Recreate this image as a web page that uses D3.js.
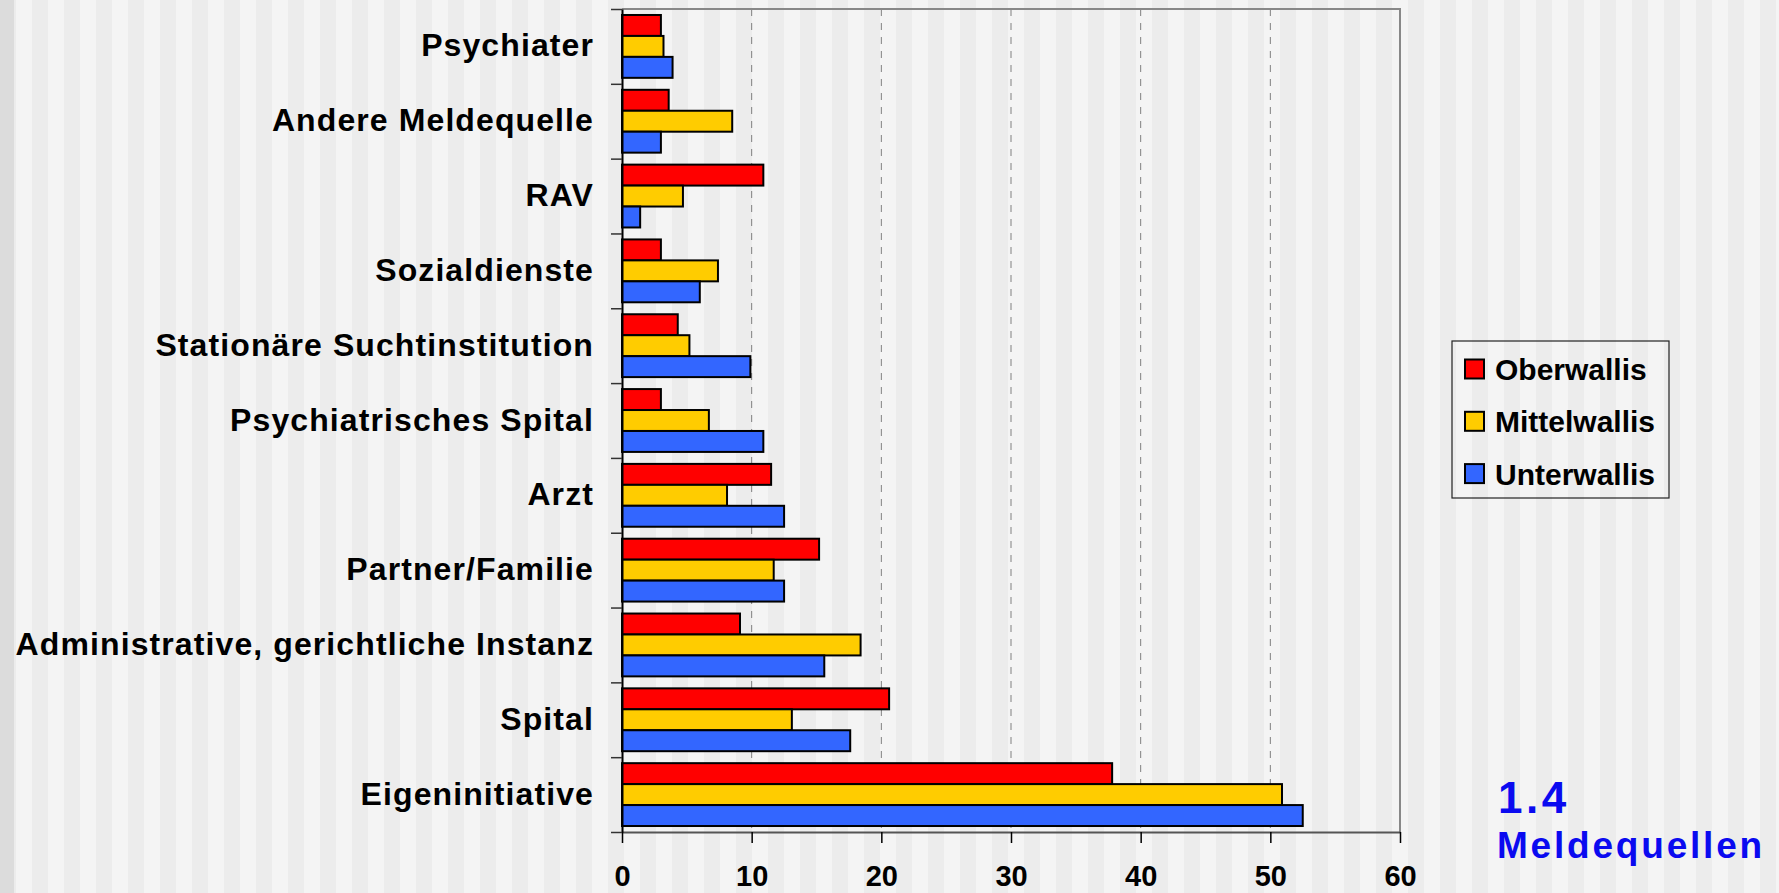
<!DOCTYPE html>
<html>
<head>
<meta charset="utf-8">
<script src="https://cdn.jsdelivr.net/npm/d3@7"></script>
<style>
  html, body { margin: 0; padding: 0; background: #f4f4f4; }
  svg { display: block; font-family: "Liberation Sans", Arial, sans-serif; }
</style>
</head>
<body>
<svg id="chart" width="1779" height="893"></svg>
<script>
// --- data ---
const categories = [
    "Psychiater", "Andere Meldequelle", "RAV", "Sozialdienste",
    "Stationäre Suchtinstitution", "Psychiatrisches Spital", "Arzt",
    "Partner/Familie", "Administrative, gerichtliche Instanz", "Spital", "Eigeninitiative"
];
const seriesNames = ["Oberwallis", "Mittelwallis", "Unterwallis"];
const oberwallis   = [3.0, 3.6, 10.9, 3.0, 4.3, 3.0, 11.5, 15.2, 9.1, 20.6, 37.8];
const mittelwallis = [3.2, 8.5, 4.7, 7.4, 5.2, 6.7, 8.1, 11.7, 18.4, 13.1, 50.9];
const unterwallis  = [3.9, 3.0, 1.4, 6.0, 9.9, 10.9, 12.5, 12.5, 15.6, 17.6, 52.5];
const xTicks = [0, 10, 20, 30, 40, 50, 60];
const colors = ["#ff0000", "#ffcc00", "#3366ff"];

const rows = categories.map((c, i) => ({
    cat: c,
    values: [oberwallis[i], mittelwallis[i], unterwallis[i]]
}));

const W = 1779, H = 893;
const plot = { left: 622, right: 1400, top: 9, bottom: 832 };

const svg = d3.select("#chart");

// striped slide background
const defs = svg.append("defs");
const pat = defs.append("pattern")
    .attr("id", "stripes").attr("patternUnits", "userSpaceOnUse")
    .attr("width", 32).attr("height", 10);
pat.append("rect").attr("width", 32).attr("height", 10).attr("fill", "#f4f4f4");
pat.append("rect").attr("width", 16).attr("height", 10).attr("fill", "#ececec");
svg.append("rect").attr("width", W).attr("height", H).attr("fill", "url(#stripes)");
svg.append("rect").attr("width", 14).attr("height", H).attr("fill", "#dcdcdc");

// scales
const x = d3.scaleLinear().domain([0, 60]).range([plot.left, plot.right]);
const y0 = d3.scaleBand().domain(categories).range([plot.top, plot.bottom])
    .paddingInner(0.16).paddingOuter(0.08);
const y1 = d3.scaleBand().domain(d3.range(seriesNames.length)).range([0, y0.bandwidth()]);
const yIdx = d3.scaleLinear().domain([0, categories.length]).range([plot.top, plot.bottom]);

// gridlines
svg.append("g").selectAll("line")
    .data(xTicks.filter(t => t > 0 && t < 60))
    .join("line")
    .attr("x1", d => x(d)).attr("x2", d => x(d))
    .attr("y1", plot.top).attr("y2", plot.bottom)
    .attr("stroke", "#808080").attr("stroke-width", 1)
    .attr("stroke-dasharray", "7,7");

// frame top + right
svg.append("path")
    .attr("d", `M${plot.left},${plot.top}H${plot.right}V${plot.bottom}`)
    .attr("fill", "none").attr("stroke", "#888").attr("stroke-width", 2);

// bars
const groups = svg.append("g").selectAll("g")
    .data(rows)
    .join("g")
    .attr("transform", d => `translate(0,${y0(d.cat)})`);

groups.selectAll("rect")
    .data(d => d.values)
    .join("rect")
    .attr("x", x(0))
    .attr("y", (d, i) => y1(i))
    .attr("width", d => x(d) - x(0))
    .attr("height", y1.bandwidth())
    .attr("fill", (d, i) => colors[i])
    .attr("stroke", "#000")
    .attr("stroke-width", 2);

// x axis
const xAxis = svg.append("g")
    .attr("transform", `translate(0,${plot.bottom})`)
    .call(d3.axisBottom(x).tickValues(xTicks).tickSize(11).tickSizeOuter(0).tickPadding(22));
xAxis.select(".domain").attr("stroke", "#555").attr("stroke-width", 2);
xAxis.selectAll(".tick line").attr("stroke", "#000").attr("stroke-width", 1.5);
xAxis.selectAll(".tick text")
    .attr("font-size", 29).attr("font-weight", "bold").attr("fill", "#000")
    .attr("font-family", "'Liberation Sans', Arial, sans-serif");

// y axis: ticks at category boundaries
const yAxis = svg.append("g")
    .attr("transform", `translate(${plot.left},0)`)
    .call(d3.axisLeft(yIdx).tickValues(d3.range(categories.length + 1))
        .tickFormat("").tickSize(11).tickSizeOuter(0));
yAxis.select(".domain").attr("stroke", "#000").attr("stroke-width", 2);
yAxis.selectAll(".tick line").attr("stroke", "#333").attr("stroke-width", 1.5);

// category labels
svg.append("g").selectAll("text")
    .data(categories)
    .join("text")
    .attr("x", 594)
    .attr("y", d => y0(d) + y0.bandwidth() / 2 + 10)
    .attr("text-anchor", "end")
    .attr("font-size", 32).attr("font-weight", "bold")
    .attr("letter-spacing", 1.1)
    .attr("fill", "#000")
    .text(d => d);

// legend
const legend = svg.append("g").attr("transform", "translate(1452,341)");
legend.append("rect")
    .attr("width", 217).attr("height", 157)
    .attr("fill", "none").attr("stroke", "#222").attr("stroke-width", 1.2);
const items = legend.selectAll("g.item")
    .data(seriesNames)
    .join("g").attr("class", "item")
    .attr("transform", (d, i) => `translate(0,${28 + i * 52.3})`);
items.append("rect")
    .attr("x", 13).attr("y", -9.5).attr("width", 19).attr("height", 19)
    .attr("fill", (d, i) => colors[i]).attr("stroke", "#000").attr("stroke-width", 2);
items.append("text")
    .attr("x", 43).attr("y", 11)
    .attr("font-size", 30).attr("font-weight", "bold").attr("fill", "#000")
    .text(d => d);

// slide caption
svg.append("text")
    .attr("x", 1498).attr("y", 813)
    .attr("font-size", 44).attr("font-weight", "bold")
    .attr("letter-spacing", 3.5).attr("fill", "#0a0af0")
    .text("1.4");
svg.append("text")
    .attr("x", 1497).attr("y", 858)
    .attr("font-size", 37).attr("font-weight", "bold")
    .attr("letter-spacing", 2.8).attr("fill", "#0a0af0")
    .text("Meldequellen");
</script>
</body>
</html>
